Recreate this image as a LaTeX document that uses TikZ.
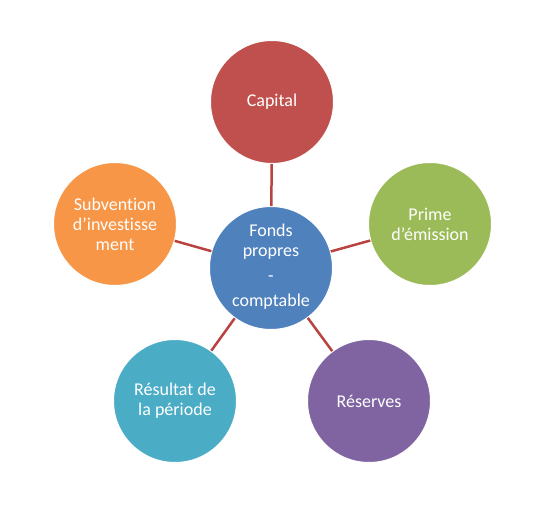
\documentclass[tikz,border=0pt]{standalone}
\usepackage{fontspec}
\setmainfont[Ligatures={NoCommon,NoContextual}]{Carlito}
\newcommand{\nlig}{\kern0pt{}}
\definecolor{cRed}{HTML}{C0504D}
\definecolor{cGreen}{HTML}{9BBB59}
\definecolor{cPurple}{HTML}{8064A2}
\definecolor{cAqua}{HTML}{4BACC6}
\definecolor{cOrange}{HTML}{F79646}
\definecolor{cBlue}{HTML}{4F81BD}
\definecolor{cLink}{HTML}{B84340}
\begin{document}
\begin{tikzpicture}[x=1pt,y=-1pt,
  bub/.style={circle,minimum size=123pt,inner sep=0pt,draw=white,line width=1pt,text=white,
    font=\fontsize{18}{20}\selectfont,align=center},
  link/.style={draw=cLink,line width=2.5pt}]
\useasboundingbox (0,0) rectangle (538,516);
\node[bub,fill=cBlue] (c) at (271,268) {};
\node[text=white,font=\fontsize{18}{20}\selectfont,align=center] (ct) at (271,267)
  {Fonds\\propres\\[5pt]-\\[5pt]comptable};
\node[bub,fill=cRed] (cap) at (272,102) {Capital};
\node[bub,fill=cGreen] (pri) at (430,224) {Prime\\d’émission};
\node[bub,fill=cPurple] (res) at (369,401) {Réserves};
\node[bub,fill=cAqua] (rsl) at (175,401) {Résultat de\\la période};
\node[bub,fill=cOrange] (sub) at (115,224) {Subvent\nlig ion\\d’invest\nlig isse\\ment};
\draw[link] (c) -- (cap);
\draw[link] (c) -- (pri);
\draw[link] (c) -- (res);
\draw[link] (c) -- (rsl);
\draw[link] (c) -- (sub);
\end{tikzpicture}
\end{document}
